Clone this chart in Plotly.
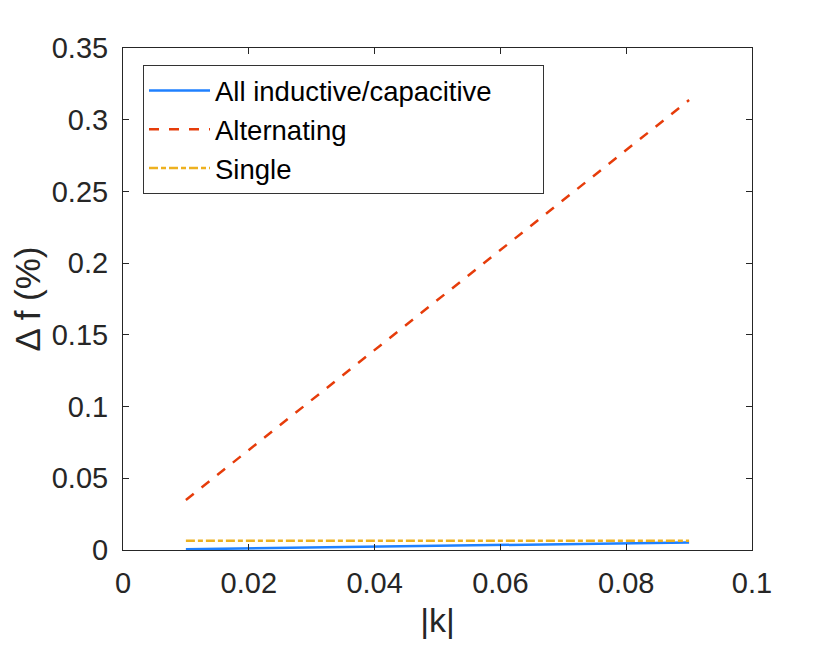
import plotly.graph_objects as go

k = [0.01, 0.02, 0.03, 0.04, 0.05, 0.06, 0.07, 0.08, 0.09]
all_ind_cap = [0.0005, 0.0011, 0.0017, 0.0023, 0.0029, 0.0035, 0.0041, 0.0047, 0.0053]
alternating = [0.0349, 0.0697, 0.1046, 0.1394, 0.1743, 0.2091, 0.2440, 0.2788, 0.3137]
single = [0.0065, 0.0065, 0.0065, 0.0065, 0.0065, 0.0065, 0.0065, 0.0065, 0.0065]

x_ticks = [0, 0.02, 0.04, 0.06, 0.08, 0.1]
x_ticktext = ["0", "0.02", "0.04", "0.06", "0.08", "0.1"]
y_ticks = [0, 0.05, 0.1, 0.15, 0.2, 0.25, 0.3, 0.35]
y_ticktext = ["0", "0.05", "0.1", "0.15", "0.2", "0.25", "0.3", "0.35"]

FONT = "Liberation Sans, Arial, sans-serif"
AX = "#262626"
PAD = "\u00a0" * 6

fig = go.Figure()
fig.add_trace(go.Scatter(x=k, y=all_ind_cap, mode="lines", name="All inductive/capacitive" + PAD,
                         line=dict(color="#1f80ff", width=2.5)))
fig.add_trace(go.Scatter(x=k, y=alternating, mode="lines", name="Alternating",
                         line=dict(color="#e63c0a", width=2.5, dash="10px,10px")))
fig.add_trace(go.Scatter(x=k, y=single, mode="lines", name="Single",
                         line=dict(color="#edb120", width=2.5, dash="9px,3px,5px,3px")))

axis_common = dict(showgrid=False, zeroline=False, showline=True, linecolor=AX, linewidth=1,
                   mirror="ticks", ticks="inside", ticklen=6, tickcolor=AX, tickwidth=1,
                   automargin=False,
                   tickfont=dict(family=FONT, size=29, color=AX))

fig.update_xaxes(range=[0, 0.1], tickvals=x_ticks, ticktext=x_ticktext, ticklabelstandoff=7,
                 title=dict(text="|k|", font=dict(family=FONT, size=34, color=AX), standoff=19),
                 **axis_common)
fig.update_yaxes(range=[0, 0.35], tickvals=y_ticks, ticktext=y_ticktext, ticklabelstandoff=8,
                 title=dict(text="Δ f (%)", font=dict(family=FONT, size=35, color=AX), standoff=12),
                 **axis_common)

fig.update_layout(
    width=814, height=631,
    margin=dict(l=115, r=70, t=40, b=89),
    plot_bgcolor="white", paper_bgcolor="white",
    font=dict(family=FONT, color=AX),
    legend=dict(x=0.0318, y=0.966, xanchor="left", yanchor="top",
                bgcolor="white", bordercolor="#333333", borderwidth=1,
                font=dict(family=FONT, size=27.5, color="black"),
                itemwidth=61),
    showlegend=True,
)

fig.write_html("out.html")
